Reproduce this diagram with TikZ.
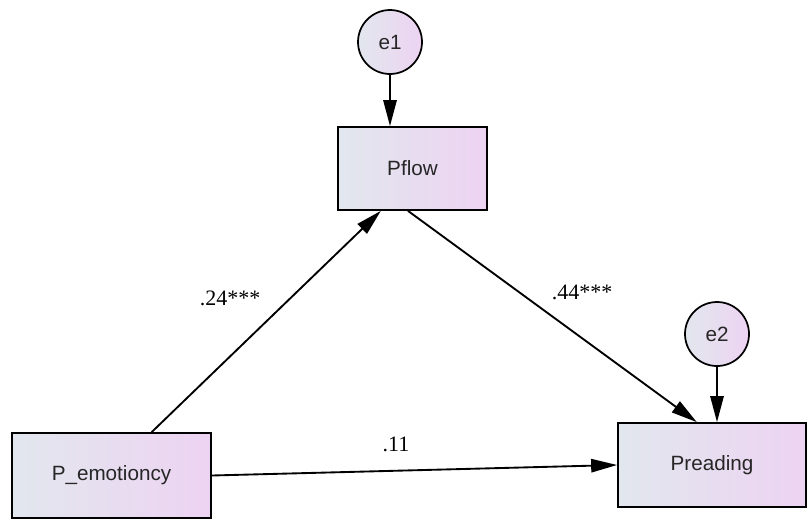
\documentclass[tikz,border=0pt]{standalone}
\usepackage{fontspec}
\setmainfont{Liberation Serif}
\newfontfamily\amosfont{Liberation Sans}
\usetikzlibrary{arrows.meta,calc}
\definecolor{boxleft}{HTML}{E2E7EE}
\definecolor{boxright}{HTML}{EDD3F2}
\tikzset{>={Triangle[length=19.5pt,width=10pt]},
  var/.style={draw,line width=1.3pt,left color=boxleft,right color=boxright,
    text=black!85,font=\amosfont\fontsize{15.5}{18}\selectfont},
  err/.style={var,circle,minimum size=48pt,inner sep=0pt},
  coef/.style={font=\fontsize{16.5}{18}\selectfont},
  link/.style={->,line width=1.4pt}}

\begin{document}
\begin{tikzpicture}[x=0.75pt,y=-0.75pt]
              \useasboundingbox (0,0) rectangle (810,519);

              \node[var,minimum width=111.75pt,minimum height=62.25pt] (pflow) at (412.5,168.5) {Pflow};
              \node[var,minimum width=149.25pt,minimum height=63.75pt] (pemo) at (111.5,475.5) {P\_emotioncy};
              \node[var,minimum width=141pt,minimum height=63pt] (pread) at (712,465) {Preading};

              \node[err] (e1) at (390,42) {e1};
              \node[err] (e2) at (717,334) {e2};

              \node[coef] (b1) at (230,298) {.24***};
              \node[coef] (b2) at (582,292) {.44***};
              \node[coef] (b3) at (396,444) {.11};

              \path[link]
              (e1) edge (e1 |- pflow.north)
              (e2) edge (e2 |- pread.north)

              ($(pemo.north west)!0.7!(pemo.north east)$) edge ($(pflow.south west)!0.29!(pflow.south east)$)
              ($(pflow.south west)!0.47!(pflow.south east)$) edge ($(pread.north west)!0.42!(pread.north east)$)
              (pemo.east) edge (pread.west)
              ;
            \end{tikzpicture}
\end{document}
